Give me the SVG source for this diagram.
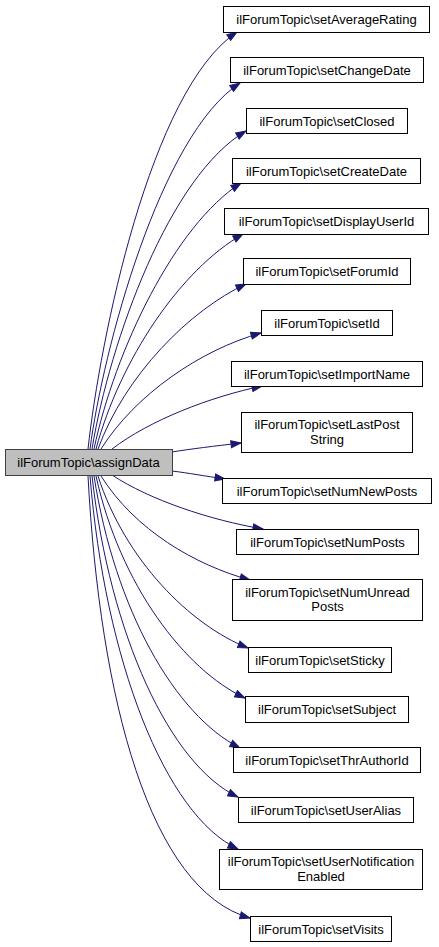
<svg xmlns="http://www.w3.org/2000/svg" width="439" height="947" viewBox="0 0 439 947">
<style>
.n rect{fill:#ffffff;stroke:#000000;stroke-width:1}
.n.src rect{fill:#bfbfbf;stroke:#404040}
.n text{font-family:"Liberation Sans",Arial,sans-serif;font-size:13px;fill:#000000;text-anchor:middle}
.e path{fill:none;stroke:#191970;stroke-width:1;marker-end:url(#ah)}
</style>
<defs>
<marker id="ah" markerUnits="userSpaceOnUse" markerWidth="11" markerHeight="8" refX="10" refY="3.5" orient="auto" overflow="visible">
<path d="M0,0 L10,3.5 L0,7 z" fill="#191970" stroke="#191970" stroke-width="1"/>
</marker>
</defs>
<rect width="439" height="947" fill="#ffffff"/>
<g id="edges" class="e">
<path d="M88,449 C100,340 150,90 237,32"/>
<path d="M90,449 C103,350 160,135 240,83"/>
<path d="M92,449 C110,340 170,175 246,131"/>
<path d="M94,449 C115,350 175,225 241,183"/>
<path d="M96,449 C120,360 180,270 243,234"/>
<path d="M98,449 C125,375 190,310 246,284"/>
<path d="M101,449 C135,395 200,350 261,333"/>
<path d="M112,449 C150,420 210,397 262,386"/>
<path d="M172,452 C190,449 215,446 241,443"/>
<path d="M172,471 C188,473 205,476 225,479"/>
<path d="M112,475 C150,500 210,520 263,529"/>
<path d="M101,476 C135,530 195,565 250,580"/>
<path d="M98,476 C125,560 190,625 248,648"/>
<path d="M96,476 C120,585 185,670 245,698"/>
<path d="M94,476 C115,610 175,715 240,748"/>
<path d="M92,476 C110,635 170,765 238,797"/>
<path d="M90,476 C105,660 165,815 238,849"/>
<path d="M88,476 C100,700 150,890 250,918"/>
</g>
<g id="node_assignData" class="n src"><rect x="5.5" y="449.5" width="167" height="26"/><text x="88.5" y="467">ilForumTopic\assignData</text></g>
<g id="node_setAverageRating" class="n"><rect x="223.5" y="6.5" width="206" height="26"/><text x="326.5" y="24">ilForumTopic\setAverageRating</text></g>
<g id="node_setChangeDate" class="n"><rect x="230.5" y="57.5" width="193" height="25"/><text x="327" y="74.5">ilForumTopic\setChangeDate</text></g>
<g id="node_setClosed" class="n"><rect x="246.5" y="108.5" width="161" height="25"/><text x="327" y="125.5">ilForumTopic\setClosed</text></g>
<g id="node_setCreateDate" class="n"><rect x="232.5" y="158.5" width="188" height="25"/><text x="326.5" y="175.5">ilForumTopic\setCreateDate</text></g>
<g id="node_setDisplayUserId" class="n"><rect x="224.5" y="208.5" width="204" height="26"/><text x="326.5" y="226">ilForumTopic\setDisplayUserId</text></g>
<g id="node_setForumId" class="n"><rect x="243.5" y="258.5" width="167" height="26"/><text x="327" y="276">ilForumTopic\setForumId</text></g>
<g id="node_setId" class="n"><rect x="261.5" y="310.5" width="131" height="25"/><text x="327" y="327.5">ilForumTopic\setId</text></g>
<g id="node_setImportName" class="n"><rect x="231.5" y="361.5" width="191" height="25"/><text x="327" y="378.5">ilForumTopic\setImportName</text></g>
<g id="node_setLastPostString" class="n"><rect x="241.5" y="412.5" width="171" height="40"/><text x="327" y="428.5">ilForumTopic\setLastPost</text><text x="327" y="443.5">String</text></g>
<g id="node_setNumNewPosts" class="n"><rect x="222.5" y="478.5" width="209" height="25"/><text x="327" y="495.5">ilForumTopic\setNumNewPosts</text></g>
<g id="node_setNumPosts" class="n"><rect x="236.5" y="529.5" width="182" height="25"/><text x="327.5" y="546.5">ilForumTopic\setNumPosts</text></g>
<g id="node_setNumUnreadPosts" class="n"><rect x="232.5" y="579.5" width="190" height="41"/><text x="327.5" y="596.5">ilForumTopic\setNumUnread</text><text x="327.5" y="610.5">Posts</text></g>
<g id="node_setSticky" class="n"><rect x="248.5" y="647.5" width="143" height="25"/><text x="320" y="664.5">ilForumTopic\setSticky</text></g>
<g id="node_setSubject" class="n"><rect x="245.5" y="696.5" width="163" height="26"/><text x="327" y="714">ilForumTopic\setSubject</text></g>
<g id="node_setThrAuthorId" class="n"><rect x="233.5" y="747.5" width="187" height="25"/><text x="327" y="764.5">ilForumTopic\setThrAuthorId</text></g>
<g id="node_setUserAlias" class="n"><rect x="238.5" y="797.5" width="175" height="25"/><text x="326" y="814.5">ilForumTopic\setUserAlias</text></g>
<g id="node_setUserNotificationEnabled" class="n"><rect x="219.5" y="849.5" width="203" height="40"/><text x="321" y="866">ilForumTopic\setUserNotification</text><text x="321" y="880.5">Enabled</text></g>
<g id="node_setVisits" class="n"><rect x="250.5" y="916.5" width="141" height="25"/><text x="321" y="933.5">ilForumTopic\setVisits</text></g>
</svg>
